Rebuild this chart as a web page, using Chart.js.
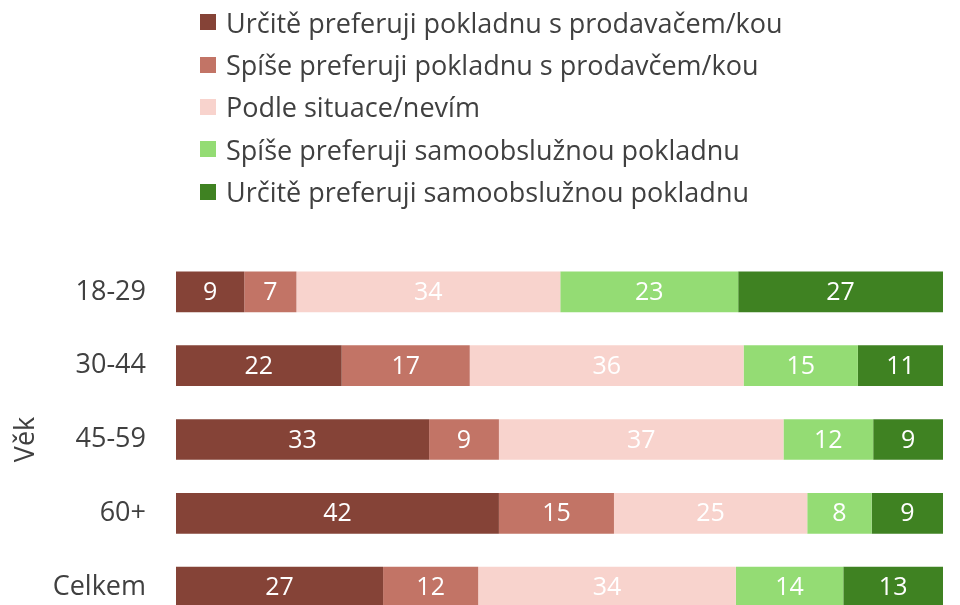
<!DOCTYPE html>
<html>
<head>
<meta charset="utf-8">
<script src="https://cdn.jsdelivr.net/npm/chart.js@4"></script>
<style>
  html, body { margin:0; padding:0; background:#fff; overflow:hidden; }
  #c { position:absolute; left:0; top:0; }
  #legend { position:absolute; left:200px; top:1px; font-family:"Open Sans", sans-serif; font-size:27px; color:#404040; }
  .lg-row { display:flex; align-items:center; height:42.4px; white-space:nowrap; }
  .lg-box { width:16px; height:16px; margin-right:10px; flex:none; }
</style>
</head>
<body>
<canvas id="c" width="960" height="624"></canvas>
<div id="legend"></div>
<script>
// categories (age groups) and series, in % of respondents
const groups = ['18-29', '30-44', '45-59', '60+', 'Celkem'];
const seriesNames = [
  'Určitě preferuji pokladnu s prodavačem/kou',
  'Spíše preferuji pokladnu s prodavčem/kou',
  'Podle situace/nevím',
  'Spíše preferuji samoobslužnou pokladnu',
  'Určitě preferuji samoobslužnou pokladnu',
];
const urciteProdavac = [8.9, 21.6, 33.0, 42.1, 27.0];
const spiseProdavac  = [6.8, 16.7, 9.1, 15.0, 12.4];
const podleSituace   = [34.4, 35.7, 37.1, 25.2, 33.6];
const spiseSamo      = [23.2, 14.9, 11.7, 8.4, 14.0];
const urciteSamo     = [26.7, 11.1, 9.1, 9.3, 13.0];
const colors = ['#854337', '#c27466', '#f8d3cd', '#94dc74', '#3f8222'];

const FONT = '"Open Sans", sans-serif';
const TXT = '#404040';

// white value labels centred in each segment
const barLabels = {
  id: 'barLabels',
  afterDatasetsDraw(chart) {
    const ctx = chart.ctx;
    ctx.save();
    ctx.font = '25px ' + FONT;
    ctx.fillStyle = '#fff';
    ctx.textAlign = 'center';
    ctx.textBaseline = 'middle';
    chart.data.datasets.forEach((ds, i) => {
      chart.getDatasetMeta(i).data.forEach((el, j) => {
        const p = el.getCenterPoint();
        ctx.fillText(String(Math.round(ds.data[j])), p.x, p.y + 1);
      });
    });
    ctx.restore();
  }
};

const allData = [urciteProdavac, spiseProdavac, podleSituace, spiseSamo, urciteSamo];

const chart = new Chart(document.getElementById('c'), {
  type: 'bar',
  data: {
    labels: groups,
    datasets: seriesNames.map((name, i) => ({
      label: name,
      data: allData[i],
      backgroundColor: colors[i],
      borderWidth: 0,
      barPercentage: 0.6,
      categoryPercentage: 0.92,
    })),
  },
  options: {
    indexAxis: 'y',
    responsive: false,
    animation: false,
    layout: { padding: { top: 255, right: 17, left: 0, bottom: 0 } },
    plugins: { legend: { display: false }, tooltip: { enabled: false } },
    scales: {
      x: { stacked: true, min: 0, max: 100, display: false },
      y: {
        stacked: true,
        grid: { display: false, drawTicks: false },
        border: { display: false },
        ticks: { color: TXT, font: { family: FONT, size: 27 }, padding: 30 },
        title: { display: true, text: 'Věk', color: TXT, font: { family: FONT, size: 27 }, padding: { top: 10, bottom: 0 } },
        afterFit: s => { s.width = 176; s.paddingTop = 0; s.paddingBottom = 0; },
      },
    },
  },
  plugins: [barLabels],
});

// legend, one item per row
document.getElementById('legend').innerHTML = chart.data.datasets.map(ds =>
  `<div class="lg-row"><span class="lg-box" style="background:${ds.backgroundColor}"></span>${ds.label}</div>`
).join('');
</script>
</body>
</html>
